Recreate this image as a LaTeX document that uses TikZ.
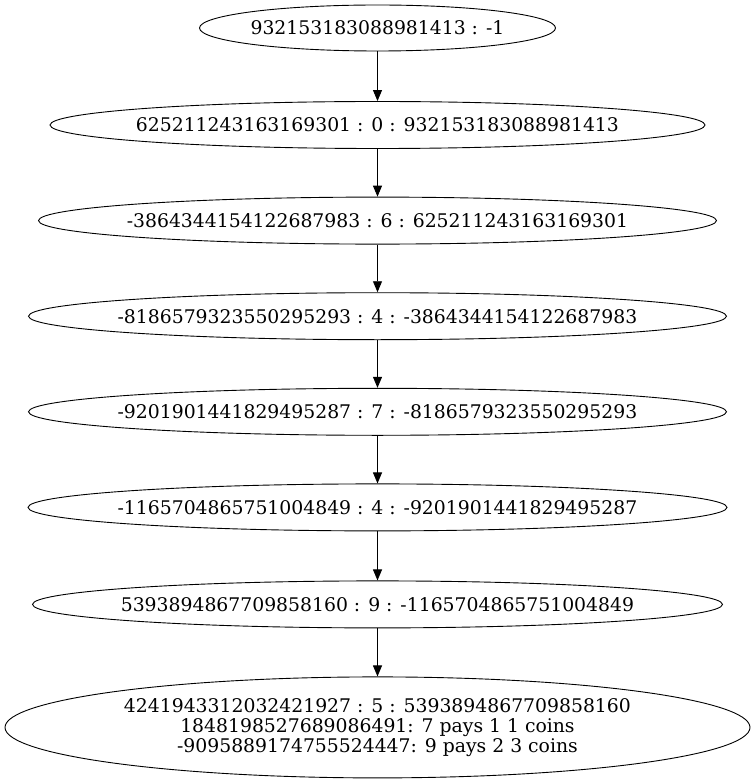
\documentclass[tikz,border=0pt]{standalone}
\usepackage{fontspec}
\setmainfont{DejaVu Serif}
\usetikzlibrary{arrows.meta,shapes.geometric}

\begin{document}
\begin{tikzpicture}[node distance=95.6pt, >={Triangle[length=11pt,width=9pt]}, line width=0.9pt,
        every node/.style={draw, ellipse, inner ysep=0pt, inner xsep=-14pt, align=center, minimum height=47pt, font=\fontsize{18.8}{20}\selectfont}]
        \useasboundingbox (0,0) rectangle (755pt,-783pt);
        \node (root) at (377.5pt,-28pt) [minimum width=356pt, minimum height=46pt] {932153183088981413 : -1};
        \node (blockA) [below of=root, node distance=97pt, minimum width=655pt] {625211243163169301 : 0 : 932153183088981413};
        \node (blockB) [below of=blockA, minimum width=678pt] {-3864344154122687983 : 6 : 625211243163169301};
        \node (blockC) [below of=blockB, minimum width=698pt] {-8186579323550295293 : 4 : -3864344154122687983};
        \node (blockD) [below of=blockC, minimum width=698pt] {-9201901441829495287 : 7 : -8186579323550295293};
        \node (blockE) [below of=blockD, minimum width=699pt] {-1165704865751004849 : 4 : -9201901441829495287};
        \node (blockF) [below of=blockE, node distance=97pt, minimum width=690pt] {5393894867709858160 : 9 : -1165704865751004849};
        \node (blockG) [below of=blockF, node distance=123pt, minimum width=745pt, minimum height=101pt] {4241943312032421927 : 5 : 5393894867709858160\\1848198527689086491: 7 pays 1 1 coins\\-9095889174755524447: 9 pays 2 3 coins};

        \draw[->] (root) -- (blockA);
        \draw[->] (blockA) -- (blockB);
        \draw[->] (blockB) -- (blockC);
        \draw[->] (blockC) -- (blockD);
        \draw[->] (blockD) -- (blockE);
        \draw[->] (blockE) -- (blockF);
        \draw[->] (blockF) -- (blockG);
    \end{tikzpicture}
\end{document}
